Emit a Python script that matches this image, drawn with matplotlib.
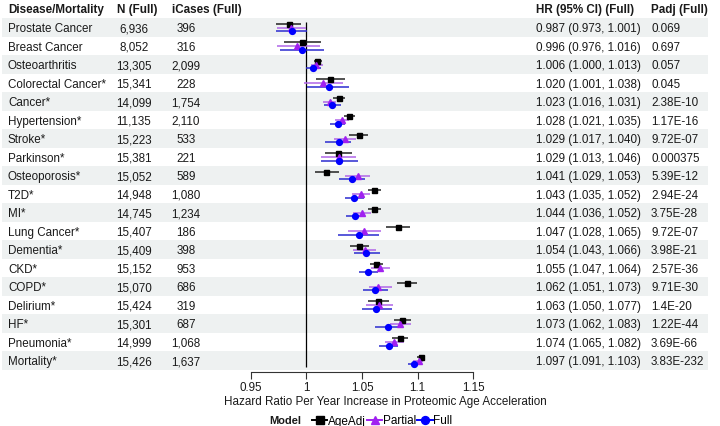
import matplotlib
matplotlib.use('Agg')
from matplotlib import pyplot as plt
from matplotlib.lines import Line2D

plt.rcParams['font.family'] = ['Liberation Sans', 'DejaVu Sans']

diseases = ['Prostate Cancer', 'Breast Cancer', 'Osteoarthritis', 'Colorectal Cancer*',
            'Cancer*', 'Hypertension*', 'Stroke*', 'Parkinson*', 'Osteoporosis*', 'T2D*',
            'MI*', 'Lung Cancer*', 'Dementia*', 'CKD*', 'COPD*', 'Delirium*', 'HF*',
            'Pneumonia*', 'Mortality*']
n_full = ['6,936', '8,052', '13,305', '15,341', '14,099', '11,135', '15,223', '15,381',
          '15,052', '14,948', '14,745', '15,407', '15,409', '15,152', '15,070', '15,424',
          '15,301', '14,999', '15,426']
cases_full = ['396', '316', '2,099', '228', '1,754', '2,110', '533', '221', '589', '1,080',
              '1,234', '186', '398', '953', '686', '319', '687', '1,068', '1,637']
padj_full = ['0.069', '0.697', '0.057', '0.045', '2.38E-10', '1.17E-16', '9.72E-07',
             '0.000375', '5.39E-12', '2.94E-24', '3.75E-28', '9.72E-07', '3.98E-21',
             '2.57E-36', '9.71E-30', '1.4E-20', '1.22E-44', '3.69E-66', '3.83E-232']

# Full model (values from the HR column)
full_hr = [0.987, 0.996, 1.006, 1.020, 1.023, 1.028, 1.029, 1.029, 1.041, 1.043,
           1.044, 1.047, 1.054, 1.055, 1.062, 1.063, 1.073, 1.074, 1.097]
full_lo = [0.973, 0.976, 1.000, 1.001, 1.016, 1.021, 1.017, 1.013, 1.029, 1.035,
           1.036, 1.028, 1.043, 1.047, 1.051, 1.050, 1.062, 1.065, 1.091]
full_hi = [1.001, 1.016, 1.013, 1.038, 1.031, 1.035, 1.040, 1.046, 1.053, 1.052,
           1.052, 1.065, 1.066, 1.064, 1.073, 1.077, 1.083, 1.082, 1.103]

# AgeAdj and Partial models
age_hr = [0.984, 0.996, 1.010, 1.021, 1.029, 1.038, 1.047, 1.028, 1.018, 1.061,
          1.061, 1.082, 1.047, 1.063, 1.090, 1.064, 1.086, 1.084, 1.103]
age_lo = [0.973, 0.980, 1.007, 1.009, 1.024, 1.034, 1.038, 1.017, 1.008, 1.055,
          1.055, 1.072, 1.039, 1.057, 1.081, 1.055, 1.079, 1.077, 1.099]
age_hi = [0.995, 1.013, 1.014, 1.035, 1.035, 1.044, 1.055, 1.041, 1.029, 1.067,
          1.067, 1.093, 1.056, 1.069, 1.099, 1.074, 1.094, 1.091, 1.107]

part_hr = [0.986, 0.992, 1.009, 1.015, 1.021, 1.032, 1.035, 1.029, 1.046, 1.049,
           1.050, 1.052, 1.053, 1.066, 1.064, 1.065, 1.084, 1.079, 1.101]
part_lo = [0.974, 0.974, 1.004, 0.998, 1.015, 1.026, 1.025, 1.013, 1.035, 1.041,
           1.042, 1.037, 1.042, 1.058, 1.056, 1.054, 1.075, 1.071, 1.096]
part_hi = [1.000, 1.012, 1.015, 1.033, 1.027, 1.038, 1.045, 1.045, 1.057, 1.057,
           1.058, 1.067, 1.063, 1.075, 1.077, 1.078, 1.094, 1.088, 1.105]

xticks = [0.95, 1, 1.05, 1.1, 1.15]
xtick_labels = ['0.95', '1', '1.05', '1.1', '1.15']

W, H = 720, 426
fig = plt.figure(figsize=(W / 100, H / 100), dpi=100)

n = len(diseases)
ylim = (18.63, -1.497)
ax_bottom = (H - 372.3) / H
ax_height = 372.3 / H

# table layer: row shading + text, x measured in pixels
tab = fig.add_axes([0, ax_bottom, 1, ax_height])
tab.set_xlim(0, W)
tab.set_ylim(*ylim)
tab.axis('off')

fs = 8.4
txt_col = '#1a1a1a'
va = 'center_baseline'
for i in range(n):
    if i % 2 == 0:
        tab.axhspan(i - 0.5, i + 0.5, xmin=2 / W, xmax=708 / W, color='#eef1f1', lw=0, zorder=0)
    tab.text(8, i, diseases[i], ha='left', va=va, fontsize=fs, color=txt_col)
    tab.text(134, i, n_full[i], ha='center', va=va, fontsize=fs, color=txt_col)
    tab.text(186, i, cases_full[i], ha='center', va=va, fontsize=fs, color=txt_col)
    hr_txt = '%.3f (%.3f, %.3f)' % (full_hr[i], full_lo[i], full_hi[i])
    tab.text(536, i, hr_txt, ha='left', va=va, fontsize=fs, color=txt_col)
    tab.text(651, i, padj_full[i], ha='left', va=va, fontsize=fs, color=txt_col)

hy = -1.06
headers = [(8, 'Disease/Mortality'), (117, 'N (Full)'), (172, 'iCases (Full)'),
           (536, 'HR (95% CI) (Full)'), (651, 'Padj (Full)')]
for x, h in headers:
    tab.text(x, hy, h, ha='left', va=va, fontsize=fs, fontweight='bold', color=txt_col)

# forest layer
scale = 1113.0  # px per HR unit
left_px = 250.7 - (0.95 - 0.93) * scale
right_px = left_px + (1.18 - 0.93) * scale
ax = fig.add_axes([left_px / W, ax_bottom, (right_px - left_px) / W, ax_height])
ax.patch.set_visible(False)
ax.set_xlim(0.93, 1.18)
ax.set_ylim(*ylim)
for s in ['top', 'right', 'left']:
    ax.spines[s].set_visible(False)
ax.spines['bottom'].set_bounds(0.95, 1.15)
ax.spines['bottom'].set_color('#333333')
ax.spines['bottom'].set_linewidth(0.8)
ax.set_yticks([])
ax.set_xticks(xticks)
ax.set_xticklabels(xtick_labels, fontsize=fs, color=txt_col)
ax.tick_params(axis='x', length=5, width=0.8, color='#333333', pad=2)
ax.set_xlabel('Hazard Ratio Per Year Increase in Proteomic Age Acceleration',
              fontsize=fs, color=txt_col)
ax.xaxis.set_label_coords((385 - left_px) / (right_px - left_px), -0.065)

ax.vlines(1, -0.3, 18.35, color='black', lw=0.9, zorder=1)

rows = list(range(n))
off = 0.2
models = [
    ('AgeAdj', age_hr, age_lo, age_hi, -off, 's', 'black', '#222222', 3.6),
    ('Partial', part_hr, part_lo, part_hi, 0.0, '^', '#a020f0', '#b066e8', 3.8),
    ('Full', full_hr, full_lo, full_hi, off, 'o', '#0000ff', '#2b2bd0', 4.2),
]
for name, hr, lo, hi, dy, mk, mc, lc, ms in models:
    ys = [r + dy for r in rows]
    ax.hlines(ys, lo, hi, color=lc, lw=1.1, zorder=2)
    ax.plot(hr, ys, ls='none', marker=mk, color=mc, ms=ms, zorder=3)

# legend
fig.text(269 / W, 1 - 421.5 / H, 'Model', fontsize=7.9, fontweight='bold',
         ha='left', va='center', color=txt_col)
handles = [Line2D([], [], color=mc, marker=mk, ms=ms + 1.5, lw=1.4)
           for name, hr, lo, hi, dy, mk, mc, lc, ms in models]
labels = [m[0] for m in models]
fig.legend(handles, labels, loc='center left', bbox_to_anchor=(312 / W, 1 - 421.5 / H),
           ncol=3, frameon=False, fontsize=8.5, handlelength=1.3,
           handletextpad=0.05, columnspacing=0.1, borderpad=0, borderaxespad=0)

fig.savefig('out.png', dpi=100)
